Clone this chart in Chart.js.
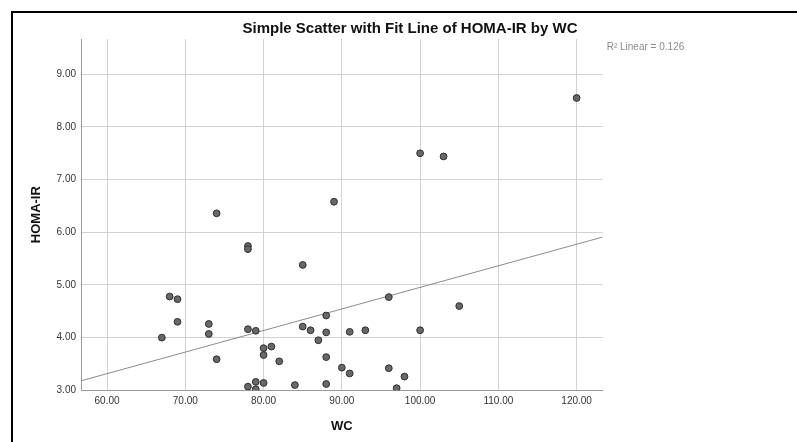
<!DOCTYPE html>
<html><head><meta charset="utf-8">
<script src="https://cdn.jsdelivr.net/npm/chart.js@4"></script>
<style>html,body{margin:0;padding:0;background:#fff;overflow:hidden}#wrap{position:relative;width:797px;height:442px}canvas{display:block}</style>
</head><body><div id="wrap"><canvas id="c" width="797" height="442"></canvas></div>
<script>
const chartTitle = 'Simple Scatter with Fit Line of HOMA-IR by WC';
const xAxisTitle = 'WC';
const yAxisTitle = 'HOMA-IR';
const fitLabel = 'R\u00B2 Linear = 0.126';

const wc   = [120, 100, 103, 89, 74, 78, 78, 85, 96, 105, 68, 69, 69, 73, 73, 67, 78, 79, 74, 80, 81, 80, 82, 85, 86, 88, 88, 87, 88, 91, 93, 100, 90, 91, 96, 98, 97, 88, 84, 78, 79, 80, 79];
const homa = [8.55, 7.50, 7.44, 6.58, 6.36, 5.74, 5.68, 5.38, 4.77, 4.60, 4.78, 4.73, 4.30, 4.26, 4.07, 4.00, 4.16, 4.13, 3.59, 3.80, 3.83, 3.67, 3.55, 4.21, 4.14, 4.42, 4.10, 3.95, 3.63, 4.11, 4.14, 4.14, 3.43, 3.32, 3.42, 3.26, 3.04, 3.12, 3.10, 3.07, 3.16, 3.14, 3.02];

const fitX = [56.67, 123.33];
const fitY = [3.18, 5.91];

const xTicks = [60, 70, 80, 90, 100, 110, 120];
const yTicks = [3, 4, 5, 6, 7, 8, 9];
const xRange = [56.67, 123.33];
const yRange = [3, 9.67];

const FONT = '"Liberation Sans", Arial, sans-serif';
Chart.defaults.font.family = FONT;

const decor = {
  id: 'decor',
  afterDraw(chart) {
    const ctx = chart.ctx;
    ctx.save();
    ctx.fillStyle = '#000';
    ctx.fillRect(11, 11, 2, 431);
    ctx.fillRect(11, 11, 786, 2);
    ctx.font = '10px ' + FONT;
    ctx.fillStyle = '#8a8a8a';
    ctx.textBaseline = 'middle';
    ctx.textAlign = 'left';
    ctx.fillText(fitLabel, chart.chartArea.right + 4, 47.5);
    ctx.restore();
  }
};

new Chart(document.getElementById('c'), {
  type: 'scatter',
  data: {
    datasets: [
      {
        data: wc.map((x, i) => ({x: x, y: homa[i]})),
        backgroundColor: '#686868',
        borderColor: '#2e2e2e',
        borderWidth: 1,
        pointRadius: 3.4,
        order: 0
      },
      {
        data: fitX.map((x, i) => ({x: x, y: fitY[i]})),
        showLine: true,
        borderColor: '#8c8c8c',
        borderWidth: 1,
        pointRadius: 0,
        order: 1
      }
    ]
  },
  options: {
    responsive: false,
    animation: false,
    devicePixelRatio: 1,
    layout: {padding: {left: 23, right: 0, top: 0, bottom: 0}},
    plugins: {
      legend: {display: false},
      tooltip: {enabled: false},
      title: {
        display: true,
        text: chartTitle,
        color: '#111',
        font: {size: 15, weight: 'bold', family: FONT},
        padding: {top: 19.5, bottom: 1.5}
      }
    },
    scales: {
      x: {
        type: 'linear',
        min: xRange[0], max: xRange[1],
        afterBuildTicks: s => { s.ticks = xTicks.map(v => ({value: v})); },
        afterFit: s => { s.height = 51.7; },
        ticks: {callback: v => Number(v).toFixed(2), color: '#333', font: {size: 10}, padding: 5, maxRotation: 0, autoSkip: false},
        grid: {color: '#d2d2d2', lineWidth: 1, drawTicks: false},
        border: {color: '#9a9a9a', width: 1},
        title: {display: true, text: xAxisTitle, color: '#111', font: {size: 13, weight: 'bold'}, padding: {top: 0, bottom: 8}}
      },
      y: {
        type: 'linear',
        position: 'left',
        min: yRange[0], max: yRange[1],
        afterBuildTicks: s => { s.ticks = yTicks.map(v => ({value: v})); },
        afterFit: s => { s.width = 58; },
        ticks: {callback: v => Number(v).toFixed(2), color: '#333', font: {size: 10}, padding: 5, autoSkip: false},
        grid: {color: '#d2d2d2', lineWidth: 1, drawTicks: false},
        border: {color: '#9a9a9a', width: 1},
        title: {display: true, text: yAxisTitle, color: '#111', font: {size: 13, weight: 'bold'}, padding: {top: 6, bottom: 0}}
      },
      y2: {
        type: 'linear',
        position: 'right',
        display: true,
        grid: {display: false, drawTicks: false},
        border: {display: false},
        ticks: {display: false},
        afterFit: s => { s.width = 194.3; }
      }
    }
  },
  plugins: [decor]
});
</script>
</body></html>
